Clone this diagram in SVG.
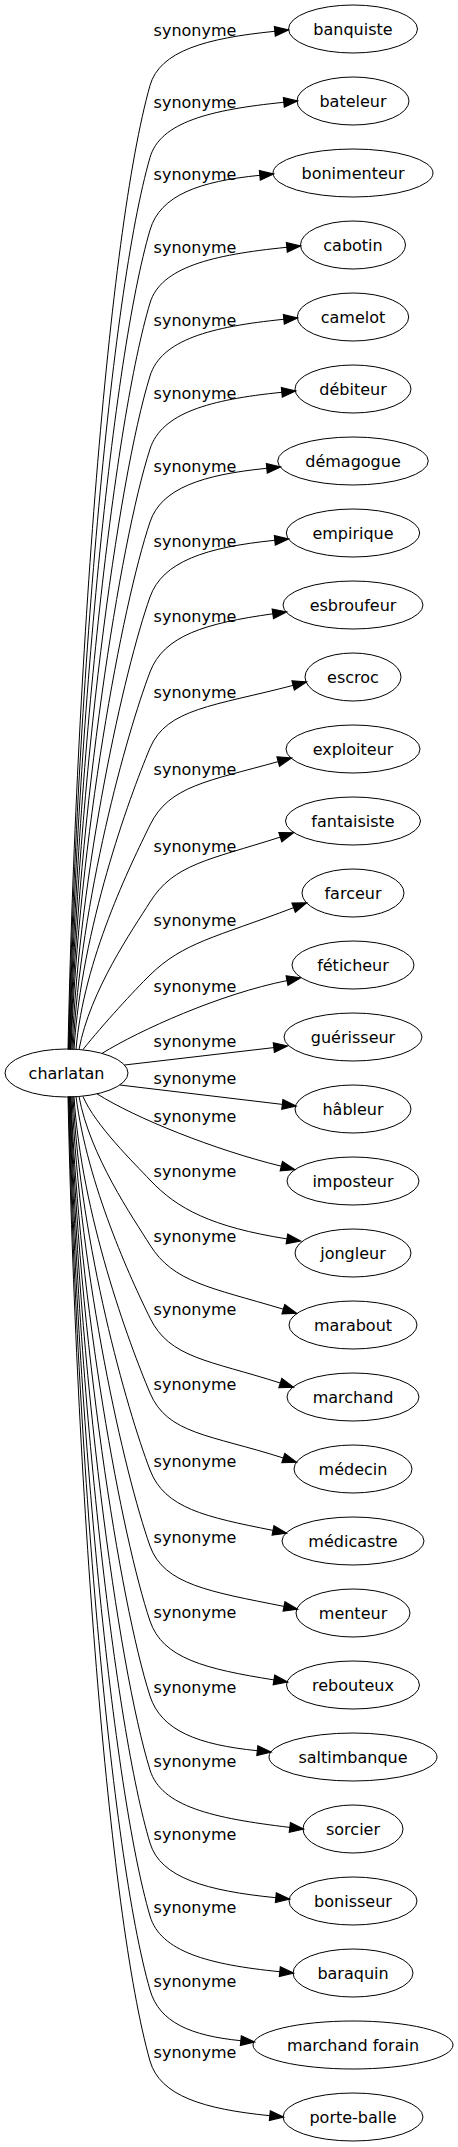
<svg xmlns="http://www.w3.org/2000/svg" width="458" height="2147" viewBox="0 0 458 2147">
<style>
text{font-family:"DejaVu Sans","Liberation Sans",sans-serif;font-size:16px;fill:#000}
.n ellipse{fill:none;stroke:#000;stroke-width:1}
.n text{text-anchor:middle}
.e path{fill:none;stroke:#000;stroke-width:1;marker-end:url(#ah)}
.e text{text-anchor:middle}
</style>
<defs>
<marker id="ah" markerUnits="userSpaceOnUse" markerWidth="14" markerHeight="10" refX="0" refY="4.67" orient="auto" viewBox="0 0 13.33 9.33" style="overflow:visible">
<path d="M0,0 L13.33,4.67 L0,9.33 Z" fill="#000" stroke="#000" stroke-width="1"/>
</marker>
</defs>
<rect width="458" height="2147" fill="#fff"/>
<g id="edges" class="e">
<g id="e0"><path d="M68,1049.5 C76.2,663.9 108.1,234.2 150,85.5 C159.8,50.8 206.2,38.2 274.8,31.3"/><text x="195" y="35.5">synonyme</text></g>
<g id="e1"><path d="M68.5,1049.5 C76.7,692.7 110.3,295.7 150,157.5 C160.1,122.2 210.2,109.7 283.8,102.3"/><text x="195" y="107.7">synonyme</text></g>
<g id="e2"><path d="M69,1049.5 C77.1,721.7 112.7,357.6 150,230 C160.2,195.1 199.4,181.3 259.8,175.3"/><text x="195" y="180">synonyme</text></g>
<g id="e3"><path d="M69.5,1049.5 C77.6,750.9 115,419.9 150,303 C160.6,267.5 211.6,254.8 286.8,247.3"/><text x="195" y="253">synonyme</text></g>
<g id="e4"><path d="M70,1049.5 C78,780.1 117.3,482 150,376 C161.1,340 210.2,326.7 283.8,319.3"/><text x="195" y="326">synonyme</text></g>
<g id="e5"><path d="M70.5,1049.5 C78.5,809.3 119.5,544.3 150,449 C161.5,413.1 209.3,399.6 281.8,392.3"/><text x="195" y="399">synonyme</text></g>
<g id="e6"><path d="M71,1049.5 C78.9,838.5 121.8,606.5 150,522 C161.3,488.1 202.6,474.7 266.8,468.3"/><text x="195" y="472">synonyme</text></g>
<g id="e7"><path d="M72,1049.5 C79.8,868.5 124.1,670.5 150,597 C162.6,561.4 206.2,547.2 274.8,540.3"/><text x="195" y="547">synonyme</text></g>
<g id="e8"><path d="M73,1049.5 C80.7,898.5 126.4,734.3 150,672 C163.8,635.5 205.3,623.3 272.8,613.8"/><text x="195" y="622">synonyme</text></g>
<g id="e9"><path d="M74,1049.5 C81.6,928.9 128.7,798.9 150,748 C166.6,708.4 214.4,705.9 293.1,685.4"/><text x="195" y="698">synonyme</text></g>
<g id="e10"><path d="M76,1049.5 C83.4,959.7 130.9,864.3 150,825 C169.1,785.8 207.7,781.3 278.2,761.6"/><text x="195" y="775">synonyme</text></g>
<g id="e11"><path d="M79,1049.5 C90,990.5 133,929.2 150,902 C173.8,864 208.6,860 280.3,837.1"/><text x="195" y="852">synonyme</text></g>
<g id="e12"><path d="M83,1049.5 C103,1024.5 134.8,989.8 150,975 C183.5,942.3 214.6,937.7 293.6,907.7"/><text x="195" y="926">synonyme</text></g>
<g id="e13"><path d="M102,1053.4 C140,1030 220,994 287,980.6"/><text x="195" y="992">synonyme</text></g>
<g id="e14"><path d="M124.5,1065 L273.8,1047.6"/><text x="195" y="1047">synonyme</text></g>
<g id="e15"><path d="M119.8,1085 L282.3,1104.4"/><text x="195" y="1084">synonyme</text></g>
<g id="e16"><path d="M97,1093.8 C135,1118 215,1150 281.3,1166.2"/><text x="195" y="1122">synonyme</text></g>
<g id="e17"><path d="M83,1096.5 C95,1125 134.6,1163.6 150,1180 C177.2,1208.9 211.6,1226.9 286.9,1238.9"/><text x="195" y="1177">synonyme</text></g>
<g id="e18"><path d="M79,1096.5 C90,1155.9 132.9,1217.6 150,1245 C173.4,1282.5 210,1287.2 283.3,1309.2"/><text x="195" y="1242">synonyme</text></g>
<g id="e19"><path d="M76,1096.5 C87.4,1185.1 130.9,1279.2 150,1318 C169.8,1358.3 208.6,1360.1 280.3,1383"/><text x="195" y="1315">synonyme</text></g>
<g id="e20"><path d="M74,1096.5 C81.6,1215.1 128.8,1342.8 150,1393 C167.4,1434.3 210,1434.5 283.3,1458"/><text x="195" y="1390">synonyme</text></g>
<g id="e21"><path d="M73,1096.5 C80.7,1245.9 126.5,1408.3 150,1470 C164.6,1508.3 205.3,1516.9 273,1530.4"/><text x="195" y="1467">synonyme</text></g>
<g id="e22"><path d="M72,1096.5 C79.8,1276.3 124.2,1473 150,1546 C163.6,1584.6 210.3,1591.7 284,1606.4"/><text x="195" y="1543">synonyme</text></g>
<g id="e23"><path d="M71,1096.5 C78.9,1306.3 121.9,1536.9 150,1621 C162.6,1658.6 205.8,1669 273.9,1679.9"/><text x="195" y="1618">synonyme</text></g>
<g id="e24"><path d="M70.5,1096.5 C78.5,1336.3 119.5,1600.9 150,1696 C161.1,1730.7 198.3,1744.8 257.3,1750.7"/><text x="195" y="1693">synonyme</text></g>
<g id="e25"><path d="M70,1096.5 C78,1365.9 117.3,1664 150,1770 C161.3,1806.6 212.9,1818.2 289.8,1827.4"/><text x="195" y="1767">synonyme</text></g>
<g id="e26"><path d="M69.5,1096.5 C77.6,1395.1 115,1726.1 150,1843 C160.4,1877.9 206.6,1890.8 275.8,1897.7"/><text x="195" y="1840">synonyme</text></g>
<g id="e27"><path d="M69,1096.5 C77.1,1424.3 112.7,1788.4 150,1916 C160.4,1951.6 208.4,1964.6 279.8,1971.7"/><text x="195" y="1913">synonyme</text></g>
<g id="e28"><path d="M68.5,1096.5 C76.7,1453.9 110.3,1851.6 150,1990 C159.3,2022.5 190.9,2035.7 240.8,2040.7"/><text x="195" y="1987">synonyme</text></g>
<g id="e29"><path d="M68,1096.5 C76.2,1482.3 108.1,1912.2 150,2061 C159.9,2096 203.9,2109.1 269.8,2115.7"/><text x="195" y="2058">synonyme</text></g>
</g>
<g id="nodes" class="n">
<g id="charlatan"><ellipse cx="66.5" cy="1073" rx="61.5" ry="24"/><text x="66.5" y="1078.5">charlatan</text></g>
<g id="banquiste"><ellipse cx="353" cy="29" rx="64.5" ry="24"/><text x="353" y="34.5">banquiste</text></g>
<g id="bateleur"><ellipse cx="353" cy="101" rx="56" ry="24"/><text x="353" y="106.5">bateleur</text></g>
<g id="bonimenteur"><ellipse cx="353" cy="173" rx="80" ry="24"/><text x="353" y="178.5">bonimenteur</text></g>
<g id="cabotin"><ellipse cx="353" cy="245" rx="52.5" ry="24"/><text x="353" y="250.5">cabotin</text></g>
<g id="camelot"><ellipse cx="353" cy="317" rx="55.7" ry="24"/><text x="353" y="322.5">camelot</text></g>
<g id="debiteur"><ellipse cx="353" cy="389" rx="58" ry="24"/><text x="353" y="394.5">débiteur</text></g>
<g id="demagogue"><ellipse cx="353" cy="461" rx="75.3" ry="24"/><text x="353" y="466.5">démagogue</text></g>
<g id="empirique"><ellipse cx="353" cy="533" rx="66.7" ry="24"/><text x="353" y="538.5">empirique</text></g>
<g id="esbroufeur"><ellipse cx="353" cy="605" rx="70" ry="24"/><text x="353" y="610.5">esbroufeur</text></g>
<g id="escroc"><ellipse cx="353" cy="677" rx="48" ry="24"/><text x="353" y="682.5">escroc</text></g>
<g id="exploiteur"><ellipse cx="353" cy="749" rx="67" ry="24"/><text x="353" y="754.5">exploiteur</text></g>
<g id="fantaisiste"><ellipse cx="353" cy="821" rx="67.5" ry="24"/><text x="353" y="826.5">fantaisiste</text></g>
<g id="farceur"><ellipse cx="353" cy="893" rx="51" ry="24"/><text x="353" y="898.5">farceur</text></g>
<g id="feticheur"><ellipse cx="353" cy="965" rx="61" ry="24"/><text x="353" y="970.5">féticheur</text></g>
<g id="guerisseur"><ellipse cx="353" cy="1037" rx="69" ry="24"/><text x="353" y="1042.5">guérisseur</text></g>
<g id="hableur"><ellipse cx="353" cy="1109" rx="58" ry="24"/><text x="353" y="1114.5">hâbleur</text></g>
<g id="imposteur"><ellipse cx="353" cy="1181" rx="66" ry="24"/><text x="353" y="1186.5">imposteur</text></g>
<g id="jongleur"><ellipse cx="353" cy="1253" rx="58" ry="24"/><text x="353" y="1258.5">jongleur</text></g>
<g id="marabout"><ellipse cx="353" cy="1325" rx="64" ry="24"/><text x="353" y="1330.5">marabout</text></g>
<g id="marchand"><ellipse cx="353" cy="1397" rx="66" ry="24"/><text x="353" y="1402.5">marchand</text></g>
<g id="medecin"><ellipse cx="353" cy="1469" rx="59" ry="24"/><text x="353" y="1474.5">médecin</text></g>
<g id="medicastre"><ellipse cx="353" cy="1541" rx="71" ry="24"/><text x="353" y="1546.5">médicastre</text></g>
<g id="menteur"><ellipse cx="353" cy="1613" rx="57" ry="24"/><text x="353" y="1618.5">menteur</text></g>
<g id="rebouteux"><ellipse cx="353" cy="1685" rx="66.5" ry="24"/><text x="353" y="1690.5">rebouteux</text></g>
<g id="saltimbanque"><ellipse cx="353" cy="1757" rx="84" ry="24"/><text x="353" y="1762.5">saltimbanque</text></g>
<g id="sorcier"><ellipse cx="353" cy="1829" rx="50" ry="24"/><text x="353" y="1834.5">sorcier</text></g>
<g id="bonisseur"><ellipse cx="353" cy="1901" rx="64" ry="24"/><text x="353" y="1906.5">bonisseur</text></g>
<g id="baraquin"><ellipse cx="353" cy="1973" rx="60" ry="24"/><text x="353" y="1978.5">baraquin</text></g>
<g id="marchand-forain"><ellipse cx="353" cy="2045" rx="100" ry="24"/><text x="353" y="2050.5">marchand forain</text></g>
<g id="porte-balle"><ellipse cx="353" cy="2117" rx="70" ry="24"/><text x="353" y="2122.5">porte-balle</text></g>
</g>
</svg>
